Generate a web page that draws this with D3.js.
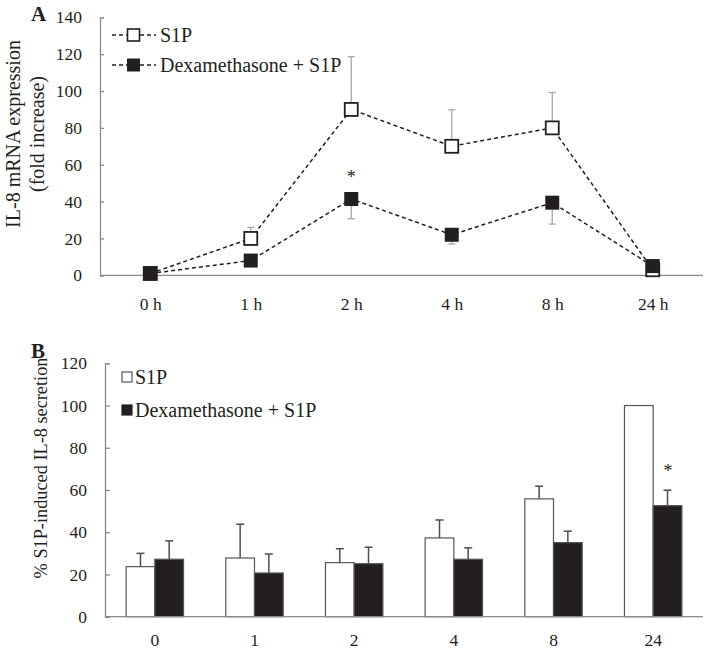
<!DOCTYPE html>
<html><head><meta charset="utf-8">
<script src="https://cdn.jsdelivr.net/npm/d3@7"></script>
<style>
body{margin:0;background:#fff;}
svg{display:block;font-family:"Liberation Serif","Times New Roman",serif;}
</style></head>
<body><svg id="c" width="709" height="651"></svg>
<script>
// Panel A data
const timesA = ["0 h","1 h","2 h","4 h","8 h","24 h"];
const s1pA = [1, 20, 90, 70, 80, 3];
const s1pAErr = [0, 6, 28.6, 19.8, 19.2, 0];
const dexA = [1, 8, 41.4, 22, 39.4, 5];
const dexAErr = [0, 0, 10.7, 5, 11.6, 0];
const ticksA = [0,20,40,60,80,100,120,140];
// Panel B data
const timesB = ["0","1","2","4","8","24"];
const s1pB = [23.7, 27.8, 25.6, 37.3, 55.8, 100];
const s1pBErr = [6.3, 16, 6.6, 8.5, 6, 0];
const dexB = [27.2, 20.7, 25.1, 27.2, 35.1, 52.6];
const dexBErr = [8.7, 9, 7.8, 5.4, 5.4, 7.3];
const ticksB = [0,20,40,60,80,100,120];
const seriesNames = ["S1P","Dexamethasone + S1P"];

const svg = d3.select("#c");
const axisCol = "#8a8a8a";
const FONT = "Liberation Serif, Times New Roman, serif";

// ---------- Panel A ----------
const xA = d3.scalePoint().domain(timesA).range([100,703]).padding(0.5);
const yA = d3.scaleLinear().domain([0,140]).range([275.3,17.3]);
const gA = svg.append("g");

const ya = gA.append("g").attr("transform","translate(100,0)")
  .call(d3.axisLeft(yA).tickValues(ticksA).tickSize(-4).tickPadding(18).tickFormat(d3.format("d")));
const xa = gA.append("g").attr("transform",`translate(0,${yA(0)})`)
  .call(d3.axisBottom(xA).tickSize(0).tickPadding(22));
xa.select(".domain").attr("d",`M100,0H703`);
[ya,xa].forEach(a=>{
  a.attr("font-family",FONT);
  a.selectAll(".domain,line").attr("stroke",axisCol).attr("stroke-width",1.3);
  a.selectAll("text").attr("font-size",17.5).attr("fill","#231f20");
});

// titles A
gA.append("text").attr("transform","translate(20,134) rotate(-90)").attr("text-anchor","middle")
  .attr("font-size",20).attr("fill","#231f20").text("IL-8 mRNA expression");
gA.append("text").attr("transform","translate(44,134) rotate(-90)").attr("text-anchor","middle")
  .attr("font-size",20).attr("fill","#231f20").text("(fold increase)");
gA.append("text").attr("x",31).attr("y",21).attr("font-size",21).attr("font-weight","bold").attr("fill","#231f20").text("A");

const lineA = d3.line().x((d,i)=>xA(timesA[i])).y(d=>yA(d));
// error bars A
function errA(vals, errs, dir){
  const g = gA.append("g").attr("stroke","#a0a0a0").attr("stroke-width",1.2);
  vals.forEach((v,i)=>{
    if(!errs[i]) return;
    const x = xA(timesA[i]);
    const e = v + dir*errs[i];
    g.append("line").attr("x1",x).attr("x2",x).attr("y1",yA(v)).attr("y2",yA(e));
    g.append("line").attr("x1",x-3.5).attr("x2",x+3.5).attr("y1",yA(e)).attr("y2",yA(e));
  });
}
errA(s1pA, s1pAErr, 1);
errA(dexA, dexAErr, -1);
gA.append("path").datum(s1pA).attr("d",lineA).attr("fill","none").attr("stroke","#231f20").attr("stroke-width",1.5).attr("stroke-dasharray","4,3");
gA.append("path").datum(dexA).attr("d",lineA).attr("fill","none").attr("stroke","#231f20").attr("stroke-width",1.5).attr("stroke-dasharray","4,3");
const ms = 13;
gA.append("g").selectAll("rect").data(s1pA).join("rect")
  .attr("x",(d,i)=>xA(timesA[i])-ms/2).attr("y",d=>yA(d)-ms/2).attr("width",ms).attr("height",ms)
  .attr("fill","#fff").attr("stroke","#231f20").attr("stroke-width",1.8);
gA.append("g").selectAll("rect").data(dexA).join("rect")
  .attr("x",(d,i)=>xA(timesA[i])-ms/2-0.5).attr("y",d=>yA(d)-ms/2-0.5).attr("width",ms+1).attr("height",ms+1)
  .attr("fill","#231f20");
gA.append("text").attr("x",xA("2 h")).attr("y",183).attr("text-anchor","middle").attr("font-size",18).attr("fill","#231f20").text("*");

// legend A
const legA = gA.append("g");
[35,65].forEach((y,i)=>{
  legA.append("line").attr("x1",112).attr("x2",156).attr("y1",y).attr("y2",y)
    .attr("stroke","#231f20").attr("stroke-width",1.5).attr("stroke-dasharray","4,3");
  if(i===0) legA.append("rect").attr("x",133.5-6).attr("y",y-6).attr("width",12).attr("height",12)
    .attr("fill","#fff").attr("stroke","#231f20").attr("stroke-width",1.6);
  else legA.append("rect").attr("x",133.5-6.5).attr("y",y-6.5).attr("width",13).attr("height",13).attr("fill","#231f20");
  legA.append("text").attr("x",160).attr("y",y+6.5).attr("font-size",20).attr("fill","#231f20").text(seriesNames[i]);
});

// ---------- Panel B ----------
const xB = d3.scaleBand().domain(timesB).range([105,703]);
const inner = d3.scaleBand().domain(seriesNames).range([0, xB.bandwidth()*0.576]);
const yB = d3.scaleLinear().domain([0,120]).range([616.7,363.3]);
const gB = svg.append("g");

const series = [
  {name:seriesNames[0], vals:s1pB, errs:s1pBErr, fill:"#fff"},
  {name:seriesNames[1], vals:dexB, errs:dexBErr, fill:"#231f20"}
];
const off = xB.bandwidth()*(1-0.576)/2;
series.forEach(s=>{
  const g = gB.append("g");
  s.vals.forEach((v,i)=>{
    const x0 = xB(timesB[i]) + off + inner(s.name);
    const w = inner.bandwidth();
    const xc = x0 + w/2;
    if(s.errs[i]){
      const e = v + s.errs[i];
      g.append("line").attr("x1",xc).attr("x2",xc).attr("y1",yB(v)).attr("y2",yB(e)).attr("stroke","#4d4d4d").attr("stroke-width",1.5);
      g.append("line").attr("x1",xc-4).attr("x2",xc+4).attr("y1",yB(e)).attr("y2",yB(e)).attr("stroke","#4d4d4d").attr("stroke-width",1.5);
    }
    g.append("rect").attr("x",x0).attr("y",yB(v)).attr("width",w).attr("height",yB(0)-yB(v))
      .attr("fill",s.fill).attr("stroke","#555").attr("stroke-width",1.2);
  });
});

const yb = gB.append("g").attr("transform","translate(105,0)")
  .call(d3.axisLeft(yB).tickValues(ticksB).tickSize(-5).tickPadding(18).tickFormat(d3.format("d")));
const xb = gB.append("g").attr("transform",`translate(0,${yB(0)})`)
  .call(d3.axisBottom(xB).tickSize(0).tickPadding(17));
xb.select(".domain").attr("d",`M105,0H703`);
[yb,xb].forEach(a=>{
  a.attr("font-family",FONT);
  a.selectAll(".domain,line").attr("stroke",axisCol).attr("stroke-width",1.3);
  a.selectAll("text").attr("font-size",17.5).attr("fill","#231f20");
});
gB.append("text").attr("transform","translate(47,468) rotate(-90)").attr("text-anchor","middle")
  .attr("font-size",18.3).attr("fill","#231f20").text("% S1P-induced IL-8 secretion");
gB.append("text").attr("x",31).attr("y",358).attr("font-size",21).attr("font-weight","bold").attr("fill","#231f20").text("B");
gB.append("text").attr("x",668).attr("y",477).attr("text-anchor","middle").attr("font-size",18).attr("fill","#231f20").text("*");

// legend B
[377,410].forEach((y,i)=>{
  gB.append("rect").attr("x",122).attr("y",y-5).attr("width",10).attr("height",10)
    .attr("fill",i===0?"#fff":"#231f20").attr("stroke",i===0?"#555":"#231f20").attr("stroke-width",1.2);
  gB.append("text").attr("x",135).attr("y",y+6.5).attr("font-size",20).attr("fill","#231f20").text(seriesNames[i]);
});
</script></body></html>
